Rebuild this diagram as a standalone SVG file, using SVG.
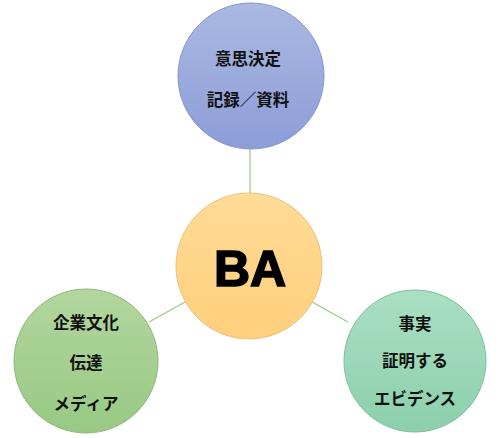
<svg xmlns="http://www.w3.org/2000/svg" width="500" height="438" viewBox="0 0 500 438">
<defs>
<linearGradient id="gBlue" x1="0" y1="0" x2="0" y2="1"><stop offset="0" stop-color="#aab9e2"/><stop offset="1" stop-color="#8c9dd8"/></linearGradient>
<linearGradient id="gOrange" x1="0" y1="0" x2="0" y2="1"><stop offset="0" stop-color="#ffdb96"/><stop offset="1" stop-color="#ffcf7c"/></linearGradient>
<linearGradient id="gGreen" x1="0" y1="0" x2="0" y2="1"><stop offset="0" stop-color="#b3d69e"/><stop offset="1" stop-color="#98c984"/></linearGradient>
<linearGradient id="gTeal" x1="0" y1="0" x2="0" y2="1"><stop offset="0" stop-color="#aadfc4"/><stop offset="1" stop-color="#8ccfac"/></linearGradient>
</defs>
<style>
.lbl{font-family:"Noto Sans CJK JP","Noto Sans",sans-serif;font-weight:bold;font-size:16.5px;fill:#111;text-anchor:middle;dominant-baseline:central}
.ba{font-family:"Liberation Sans",Arial,sans-serif;font-weight:bold;font-size:50px;fill:#000;stroke:#000;stroke-width:1.6;text-anchor:middle;dominant-baseline:central}
.conn line{stroke:#9cc88a;stroke-width:1.2}
</style>
<rect width="500" height="438" fill="#fff"/>
<g class="conn">
<line x1="250" y1="149" x2="250" y2="193"/>
<line x1="149" y1="322" x2="185" y2="302"/>
<line x1="348" y1="322" x2="312" y2="302"/>
</g>
<g id="top">
<circle cx="251" cy="76" r="73" fill="url(#gBlue)" stroke="#8595cc" stroke-width="1"/>
<text class="lbl" x="248" y="58">意思決定</text>
<text class="lbl" x="248" y="99">記録／資料</text>
</g>
<g id="center">
<circle cx="249" cy="266" r="73" fill="url(#gOrange)" stroke="#e8c27c" stroke-width="1"/>
<text class="ba" x="250" y="269">BA</text>
</g>
<g id="left">
<circle cx="86" cy="361" r="72" fill="url(#gGreen)" stroke="#8db87a" stroke-width="1"/>
<text class="lbl" x="86" y="322">企業文化</text>
<text class="lbl" x="86" y="362">伝達</text>
<text class="lbl" x="86" y="403">メディア</text>
</g>
<g id="right">
<circle cx="415" cy="361" r="71" fill="url(#gTeal)" stroke="#80bfa0" stroke-width="1"/>
<text class="lbl" x="415" y="323">事実</text>
<text class="lbl" x="415" y="360">証明する</text>
<text class="lbl" x="415" y="398">エビデンス</text>
</g>
</svg>
